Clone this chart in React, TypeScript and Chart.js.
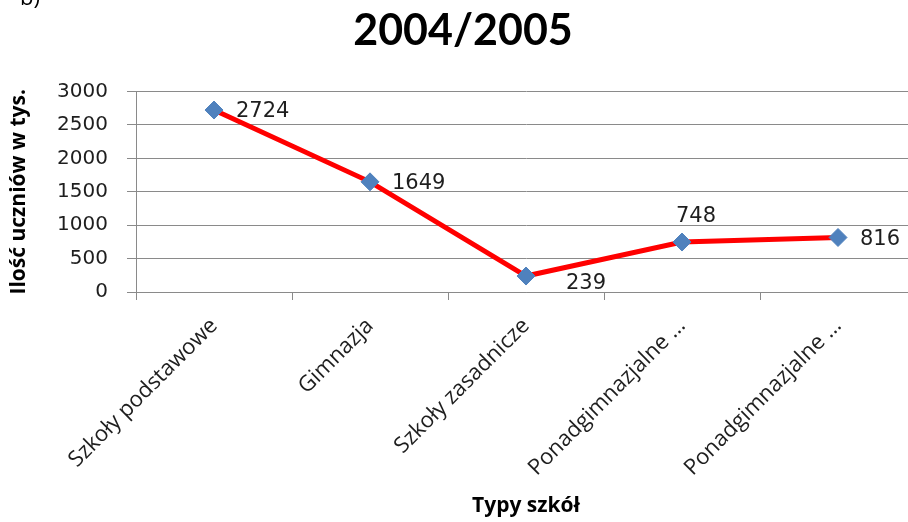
import React, { useEffect, useRef } from "react";
import { Chart, registerables } from "chart.js";

Chart.register(...registerables);

const chartTitle = "2004/2005";
const yAxisTitle = "Ilość uczniów w tys.";
const xAxisTitle = "Typy szkół";
const categories = [
  "Szkoły podstawowe",
  "Gimnazja",
  "Szkoły zasadnicze",
  "Ponadgimnazjalne …",
  "Ponadgimnazjalne …",
];
const values = [2724, 1649, 239, 748, 816];
const yMin = 0;
const yMax = 3000;
const yStep = 500;
const labelPlacement = ["right", "right", "belowRight", "above", "right"];

const GRID = "#8a8a8a";
const TEXT = "#1e1e1e";
const CANVAS_W = 926;
const CANVAS_H = 522;

const dataLabelPlugin = {
  id: "dataLabels",
  afterDatasetsDraw(chart: any) {
    const ctx = chart.ctx;
    const meta = chart.getDatasetMeta(0);
    ctx.save();
    ctx.font = "21px 'DejaVu Sans'";
    ctx.fillStyle = TEXT;
    ctx.textBaseline = "middle";
    meta.data.forEach((pt: any, i: number) => {
      const v = chart.data.datasets[0].data[i];
      const p = labelPlacement[i];
      let x = pt.x;
      let y = pt.y;
      if (p === "right") {
        ctx.textAlign = "left";
        x += 22;
        y += 2;
      } else if (p === "above") {
        ctx.textAlign = "center";
        x += 14;
        y -= 25;
      } else {
        ctx.textAlign = "left";
        x += 40;
        y += 8;
      }
      ctx.fillText(String(v), x, y);
    });
    ctx.restore();
  },
};

const cornerTextPlugin = {
  id: "cornerText",
  afterDraw(chart: any) {
    const ctx = chart.ctx;
    ctx.save();
    ctx.font = "22px 'Open Sans'";
    ctx.fillStyle = "#000";
    ctx.textAlign = "left";
    ctx.textBaseline = "alphabetic";
    ctx.fillText("b)", 20, 5);
    ctx.restore();
  },
};

export default function App() {
  const ref = useRef<HTMLCanvasElement | null>(null);

  useEffect(() => {
    if (!ref.current) return;
    const chart = new Chart(ref.current, {
      type: "line",
      data: {
        labels: categories,
        datasets: [
          {
            data: values,
            borderColor: "#ff0000",
            borderWidth: 5,
            pointStyle: "rectRot",
            pointRadius: 9,
            pointHoverRadius: 9,
            pointBackgroundColor: "#4f81bd",
            pointBorderColor: "#4f81bd",
            pointBorderWidth: 1,
            tension: 0,
            fill: false,
          },
        ],
      },
      options: {
        animation: false,
        responsive: false,
        maintainAspectRatio: false,
        layout: { padding: { left: 0, right: 0, top: 0, bottom: 0 } },
        plugins: {
          legend: { display: false },
          tooltip: { enabled: false },
          title: {
            display: true,
            text: chartTitle,
            color: "#000",
            font: { family: "Lato", size: 43, weight: "bold" },
            padding: { top: 5, bottom: 35 },
          },
        },
        scales: {
          x: {
            type: "category",
            offset: true,
            grid: {
              display: true,
              offset: true,
              drawOnChartArea: false,
              drawTicks: true,
              tickLength: 8,
              color: GRID,
            },
            border: { display: true, color: GRID, width: 1 },
            ticks: {
              color: TEXT,
              font: { family: "'Open Sans'", size: 22 },
              minRotation: 45,
              maxRotation: 45,
              autoSkip: false,
              padding: 13,
            },
            title: {
              display: true,
              text: xAxisTitle,
              color: "#000",
              font: { family: "'Open Sans'", size: 21, weight: "bold" },
              padding: { top: 0, bottom: 3 },
            },
            afterFit: (s: any) => {
              s.height = 230;
            },
          },
          y: {
            min: yMin,
            max: yMax,
            ticks: {
              stepSize: yStep,
              color: TEXT,
              font: { family: "'DejaVu Sans'", size: 20 },
              padding: 19,
              callback: (v: any) => String(v),
            },
            grid: {
              color: GRID,
              tickLength: 9,
              drawTicks: true,
            },
            border: { display: true, color: GRID, width: 1 },
            title: {
              display: true,
              text: yAxisTitle,
              color: "#000",
              font: { family: "'Open Sans'", size: 21, weight: "bold" },
              padding: { top: 6, bottom: 0 },
            },
            afterFit: (s: any) => {
              s.width = 136;
            },
          },
        },
      },
      plugins: [dataLabelPlugin, cornerTextPlugin],
    });
    return () => chart.destroy();
  }, []);

  return (
    <div
      style={{
        position: "fixed",
        left: 0,
        top: 0,
        width: 908,
        height: 522,
        overflow: "hidden",
        background: "#fff",
      }}
    >
      <canvas ref={ref} width={CANVAS_W} height={CANVAS_H} style={{ display: "block" }} />
    </div>
  );
}
